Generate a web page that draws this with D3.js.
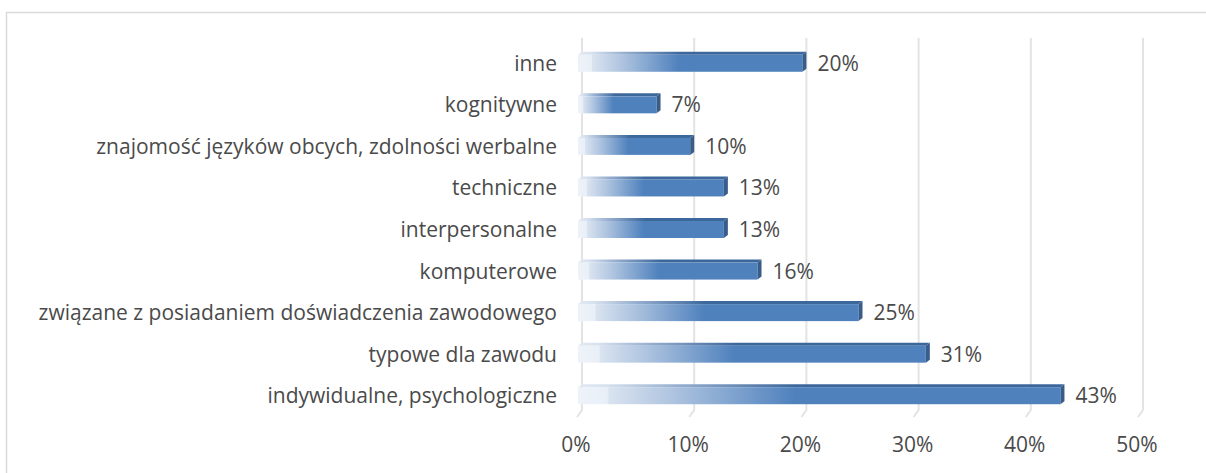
<!DOCTYPE html>
<html><head><meta charset="utf-8">
<script src="https://cdn.jsdelivr.net/npm/d3@7"></script>
<style>
html,body{margin:0;padding:0;background:#fff;}
svg text{font-family:"Open Sans","Noto Sans",sans-serif;fill:#4a4a4a;}
</style></head>
<body>
<svg id="chart" width="1206" height="473"></svg>
<script>
const categories = ["inne","kognitywne","znajomość języków obcych, zdolności werbalne","techniczne","interpersonalne","komputerowe","związane z posiadaniem doświadczenia zawodowego","typowe dla zawodu","indywidualne, psychologiczne"];
const values = [20,7,10,13,13,16,25,31,43];
const ticks = [0,10,20,30,40,50];

const svg = d3.select("#chart");
const FS = 21;

// frame
svg.append("rect").attr("x",6.5).attr("y",12.5).attr("width",1220).attr("height",500)
  .attr("fill","#fff").attr("stroke","#d9d9d9").attr("stroke-width",1.5);

const x = d3.scaleLinear().domain([0,50]).range([582,1143]);
const y = d3.scaleBand().domain(categories).range([42,416]).paddingInner(0.5).paddingOuter(0.25);

const defs = svg.append("defs");
function grad(id, stops){
  const g = defs.append("linearGradient").attr("id",id).attr("x1","0").attr("x2","1").attr("y1","0").attr("y2","0");
  stops.forEach(s=>g.append("stop").attr("offset",s[0]).attr("stop-color",s[1]));
}
grad("gFront",[[0,"#eef3f9"],[0.06,"#e9eff7"],[0.065,"#d9e3f0"],[0.2,"#adc3df"],[0.45,"#4f81bd"],[1,"#4f81bd"]]);
grad("gTop",[[0,"#e2e9f3"],[0.06,"#d6e0ee"],[0.2,"#98b0d0"],[0.45,"#3c679b"],[1,"#3c679b"]]);

// gridlines with 3D floor slant
const gBot = 410, dx = 5, dy = 7;
svg.append("g").selectAll("path").data(ticks).join("path")
  .attr("d",t=>`M${x(t)},38 L${x(t)},${gBot} L${x(t)-dx},${gBot+dy}`)
  .attr("fill","none").attr("stroke","#e3e3e3").attr("stroke-width",2);

// axis tick labels
svg.append("g").selectAll("text").data(ticks).join("text")
  .attr("x",t=>x(t)-6).attr("y",452).attr("text-anchor","middle")
  .attr("font-size",FS).text(t=>t+"%");

// bars
const d3x = 4, d3y = 3;
const bars = svg.append("g").selectAll("g").data(categories).join("g");
bars.each(function(c,i){
  const g = d3.select(this);
  const v = values[i];
  const cy = y(c)+y.bandwidth()/2;
  const x0 = x(0)-d3x, x1 = x(v)-d3x;
  const top = cy-8, bot = cy+9;
  g.append("path").attr("d",`M${x0},${top} L${x0+d3x},${top-d3y} L${x1+d3x},${top-d3y} L${x1},${top} Z`)
    .attr("fill","url(#gTop)");
  g.append("rect").attr("x",x0).attr("y",top).attr("width",x1-x0).attr("height",bot-top)
    .attr("fill","url(#gFront)");
  g.append("path").attr("d",`M${x1},${top} L${x1+d3x},${top-d3y} L${x1+d3x},${bot-d3y} L${x1},${bot} Z`)
    .attr("fill","#385d8a");
  g.append("text").attr("x",x(v)+11).attr("y",cy+8).attr("font-size",FS).text(v+"%");
  g.append("text").attr("x",557).attr("y",cy+8).attr("text-anchor","end").attr("font-size",FS).text(c);
});
</script>
</body></html>
